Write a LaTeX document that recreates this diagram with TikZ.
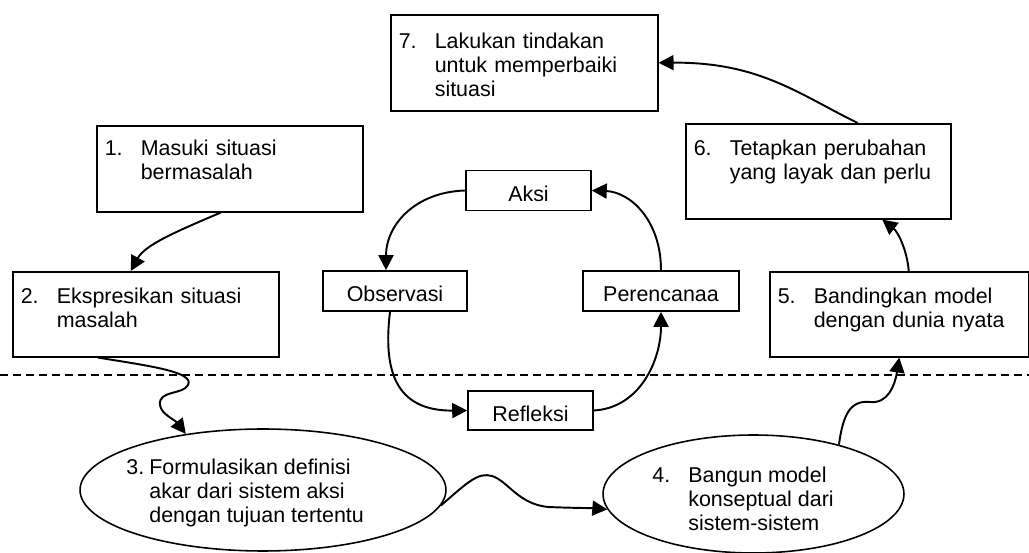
\documentclass[tikz,border=0pt]{standalone}
\usepackage{fontspec}
\setmainfont{Liberation Sans}
\usetikzlibrary{shapes.geometric, arrows.meta}

\newcommand{\numtext}[3][0.72cm]{\makebox[#1][l]{#2}\begin{tabular}[t]{@{}l@{}}#3\end{tabular}}

\begin{document}
\begin{tikzpicture}[x=0.02cm, y=-0.02cm,
    font=\fontsize{12.2}{13.5}\selectfont,
    box/.style={draw, line width=0.9pt, anchor=north west, inner xsep=0.16cm, inner ysep=0pt, align=left},
    cyc/.style={draw, line width=0.9pt, minimum height=0.8cm, inner sep=0pt, text height=0.44cm, text depth=0cm},
    oval/.style={draw, ellipse, line width=0.9pt, inner sep=0pt},
    txt/.style={inner sep=0pt, anchor=base west},
    arr/.style={-{Triangle[length=0.3cm, width=0.3cm]}, line width=1.1pt}]

% Frame
\useasboundingbox (0,0) rectangle (1029,553);

% Dashed divider
\draw[line width=0.7pt, dash pattern=on 0.17cm off 0.09cm] (0,375) -- (1029,375);

% Steps in boxes
\node[box, text width=5.02cm, text height=0.68cm, text depth=1.24cm] (sit7) at (390,14) {\numtext{7.}{Lakukan tindakan\\untuk memperbaiki\\situasi}};
\node[box, text width=5.0cm, text height=0.60cm, text depth=1.12cm] (sit1) at (96,125) {\numtext{1.}{Masuki situasi\\bermasalah}};
\node[box, text width=4.98cm, text height=0.64cm, text depth=1.26cm] (sit6) at (685,123) {\numtext{6.}{Tetapkan perubahan\\yang layak dan perlu}};
\node[box, text width=5.0cm, text height=0.64cm, text depth=1.06cm] (sit2) at (12,271) {\numtext{2.}{Ekspresikan situasi\\masalah}};
\node[box, text width=4.86cm, text height=0.64cm, text depth=1.06cm] (sit5) at (769,271) {\numtext{5.}{Bandingkan model\\dengan dunia nyata}};

% Steps in ovals
\node[oval, minimum width=7.32cm, minimum height=2.44cm] (ell3) at (263,490) {};
\node[txt] (t3) at (126,475) {\numtext[0.46cm]{3.}{Formulasikan definisi\\akar dari sistem aksi\\dengan tujuan tertentu}};
\node[oval, minimum width=6.02cm, minimum height=2.36cm] (ell4) at (753.5,494) {};
\node[txt] (t4) at (652,483) {\numtext{4.}{Bangun model\\konseptual dari\\sistem-sistem}};

% Inner cycle
\node[cyc, minimum width=2.5cm] (aksi) at (528.5,190.5) {Aksi};
\node[cyc, minimum width=2.88cm] (obs) at (395,291) {Observasi};
\node[cyc, minimum width=3.12cm] (per) at (661,291) {Perencanaa};
\node[cyc, minimum width=2.5cm, minimum height=0.78cm] (ref) at (530.5,410.5) {Refleksi};

\draw[arr] (aksi.west) .. controls (415,192) and (386,225) .. ([xshift=-0.18cm]obs.north);
\draw[arr] ([xshift=-0.1cm]obs.south) .. controls (383,370) and (395,411) .. (ref.west);
\draw[arr] (ref.east) .. controls (640,408) and (661,360) .. (per.south);
\draw[arr] (per.north) .. controls (661,220) and (630,192) .. (aksi.east);

% Outer steps
\draw[arr] ([xshift=-0.18cm]sit1.south) .. controls (175,232) and (145,245) .. ([xshift=-0.3cm]sit2.north);
\draw[arr] ([xshift=-0.96cm]sit2.south) .. controls (150,366) and (195,372) .. (188,385) .. controls (183,395) and (158,390) .. (160,405) .. controls (161,414) and (175,420) .. (ell3.144);
\draw[arr] (ell3.355) .. controls (468,482) and (478,472) .. (492,476) .. controls (508,481) and (518,504) .. (548,507) .. controls (572,508) and (590,508) .. (ell4.186);
\draw[arr] (ell4.30) .. controls (843,415) and (850,400) .. (870,402) .. controls (888,404) and (895,385) .. (sit5.south);
\draw[arr] ([xshift=0.19cm]sit5.north) .. controls (907,250) and (898,232) .. ([xshift=1.28cm]sit6.south);
\draw[arr] ([xshift=0.79cm]sit6.north) .. controls (800,95) and (760,62) .. (sit7.east);

\end{tikzpicture}
\end{document}
